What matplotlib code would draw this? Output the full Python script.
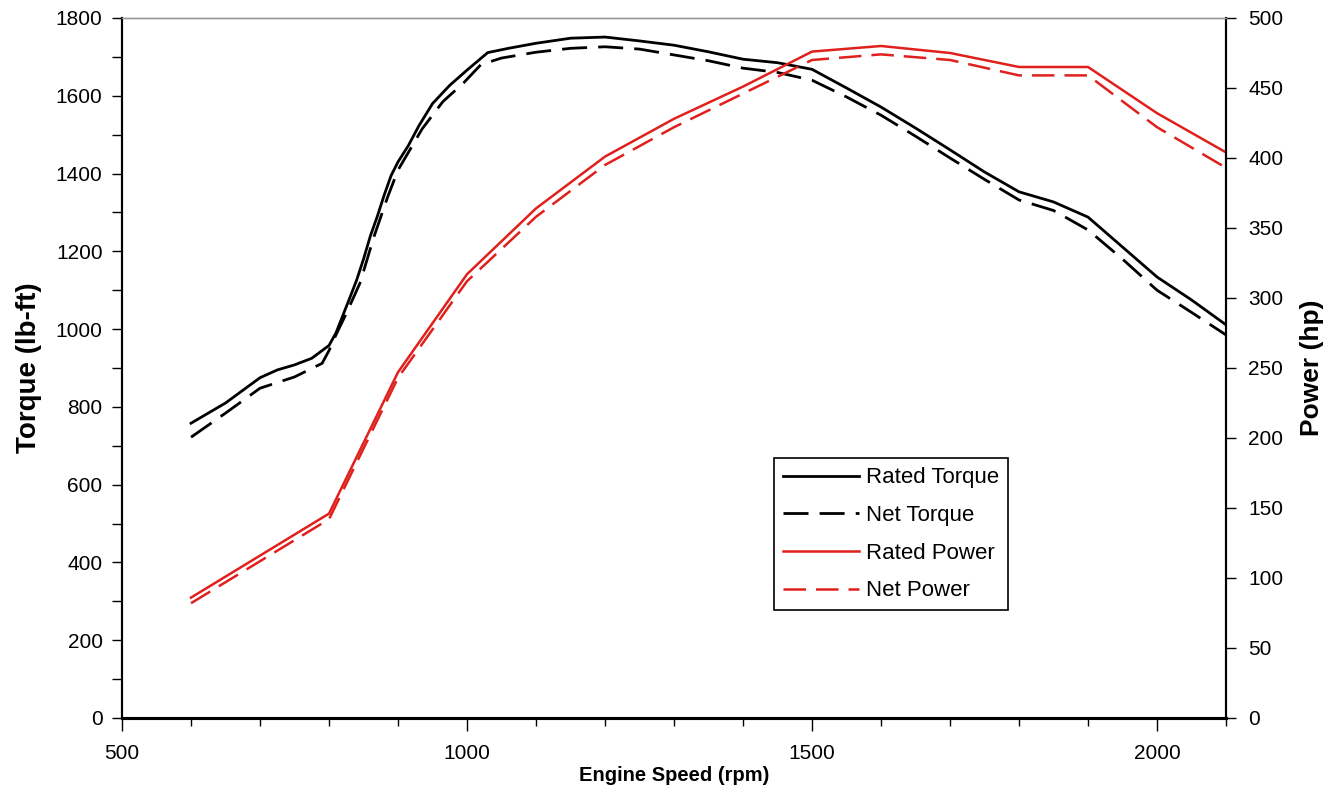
import matplotlib.pyplot as plt
from matplotlib.ticker import MultipleLocator

# ------------------------
# data
# ------------------------
rated_torque_rpm = [600, 650, 700, 725, 750, 775, 800, 810, 820, 830, 840, 850, 860, 870, 880,
                    890, 900, 915, 930, 950, 975, 1000, 1030, 1060, 1100, 1150, 1200, 1250,
                    1300, 1350, 1400, 1450, 1500, 1550, 1600, 1650, 1700, 1750, 1800, 1850,
                    1900, 1950, 2000, 2050, 2100]
rated_torque = [758, 810, 875, 895, 908, 925, 958, 990, 1035, 1080, 1126, 1180, 1240, 1290, 1345,
                1395, 1430, 1472, 1522, 1580, 1627, 1666, 1711, 1722, 1735, 1748, 1751, 1741,
                1730, 1713, 1694, 1685, 1668, 1620, 1571, 1517, 1461, 1404, 1353, 1327,
                1288, 1211, 1134, 1075, 1011]

net_torque_rpm = [600, 650, 700, 750, 790, 800, 810, 825, 845, 865, 885, 900, 935, 965, 995,
                  1020, 1050, 1100, 1150, 1200, 1250, 1300, 1350, 1400, 1450, 1500, 1550,
                  1600, 1650, 1700, 1750, 1800, 1850, 1900, 1950, 2000, 2050, 2100]
net_torque = [722, 784, 848, 877, 912, 945, 985, 1040, 1119, 1237, 1340, 1409, 1515, 1585, 1633,
              1680, 1697, 1712, 1722, 1726, 1720, 1705, 1690, 1671, 1660, 1640, 1597,
              1550, 1496, 1440, 1385, 1332, 1305, 1255, 1180, 1100, 1043, 985]

power_rpm = [600, 700, 800, 900, 1000, 1100, 1200, 1300, 1400, 1500, 1600, 1700, 1800, 1900, 2000, 2100]
rated_power = [86, 116, 146, 247, 317, 364, 401, 428, 451, 476, 480, 475, 465, 465, 432, 404]
net_power = [82, 112, 142, 243, 312, 358, 395, 422, 446, 470, 474, 470, 459, 459, 422, 393]

red = '#e0201c'
font = ['Liberation Sans', 'DejaVu Sans']
plt.rcParams['font.family'] = font

fig = plt.figure(figsize=(13.25, 7.96), dpi=100)
ax = fig.add_axes([0.0921, 0.098, 0.8332, 0.8794])
ax2 = ax.twinx()

l1, = ax.plot(rated_torque_rpm, rated_torque, color='black', lw=2.0, label='Rated Torque')
l2, = ax.plot(net_torque_rpm, net_torque, color='black', lw=2.0, dashes=(9, 4), label='Net Torque')
l3, = ax2.plot(power_rpm, rated_power, color=red, lw=1.8, label='Rated Power')
l4, = ax2.plot(power_rpm, net_power, color=red, lw=1.8, dashes=(9, 4), label='Net Power')

ax.set_xlim(500, 2100)
ax.set_ylim(0, 1800)
ax2.set_ylim(0, 500)

ax.xaxis.set_major_locator(MultipleLocator(500))
ax.xaxis.set_minor_locator(MultipleLocator(100))
ax.yaxis.set_major_locator(MultipleLocator(200))
ax.yaxis.set_minor_locator(MultipleLocator(100))
ax2.yaxis.set_major_locator(MultipleLocator(50))

ax.tick_params(axis='x', which='major', direction='out', length=9, width=1, pad=10, labelsize=15)
ax.tick_params(axis='x', which='minor', direction='out', length=6, width=1)
ax.tick_params(axis='y', which='both', direction='out', length=7, width=1, pad=7, labelsize=15)
ax2.tick_params(axis='y', which='both', direction='out', length=7, width=1, pad=9, labelsize=15)

for a in (ax, ax2):
    a.spines['top'].set_color('#999999')
    a.spines['top'].set_linewidth(1)
    a.spines['left'].set_linewidth(1.5)
    a.spines['right'].set_linewidth(1.5)
    a.spines['bottom'].set_linewidth(2.2)

ax.set_xlabel('Engine Speed (rpm)', fontsize=14.5, fontweight='bold', labelpad=2)
ax.set_ylabel('Torque (lb-ft)', fontsize=20, fontweight='bold', labelpad=10)
ax2.set_ylabel('Power (hp)', fontsize=19, fontweight='bold', labelpad=12)

leg = ax2.legend(handles=[l1, l2, l3, l4], loc='lower left',
                 bbox_to_anchor=(0.591, 0.154), fancybox=False, framealpha=1,
                 edgecolor='black', handlelength=3.4, handletextpad=0.3,
                 borderpad=0.4, borderaxespad=0, labelspacing=0.75,
                 prop=dict(size=16))
leg.get_frame().set_linewidth(1.2)

fig.savefig('out.png', dpi=100)
